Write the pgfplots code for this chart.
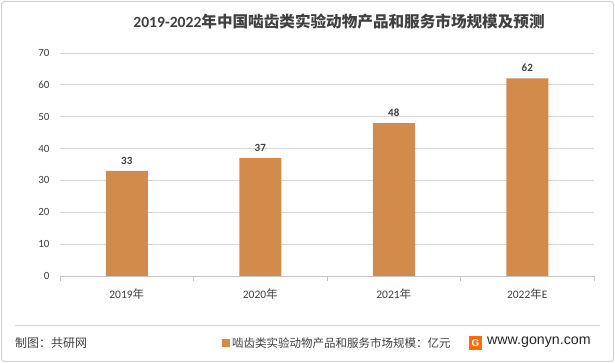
\documentclass[border=0pt]{standalone}
\usepackage{pgfplots}
\pgfplotsset{compat=1.18}
\usepackage{fontspec}
\setmainfont{Carlito}
\newfontfamily\cjk{Noto Sans CJK SC}
\newfontfamily\arial{Liberation Sans}
\definecolor{barcol}{HTML}{D38B4C}
\definecolor{txt}{HTML}{404040}
\definecolor{dtxt}{HTML}{404040}
\definecolor{gridc}{HTML}{D9D9D9}
\begin{document}
\begin{tikzpicture}
\path[use as bounding box] (0pt,0pt) rectangle (615pt,363pt);
\begin{scope}[x=1pt,y=1pt]
\draw[gray!35, line width=1pt, rounded corners=3pt] (1.5,1.5) rectangle (613.5,361.5);
\node[text=dtxt, font=\fontsize{15.6}{18}\selectfont\bfseries] at (339,341) {2019-2022{\cjk\bfseries 年中国啮齿类实验动物产品和服务市场规模及预测}};
\draw[gray!30, line width=0.8pt] (15,38) -- (600,38);
\end{scope}
\begin{axis}[
  at={(60pt,87pt)}, anchor=south west,
  scale only axis, width=534pt, height=223pt,
  xmin=-0.5, xmax=3.5, ymin=0, ymax=70,
  ytick={0,10,...,70},
  xtick={0,1,2,3},
  xticklabels={2019{\cjk 年},2020{\cjk 年},2021{\cjk 年},2022{\cjk 年}E},
  minor xtick={-0.5,0.5,1.5,2.5,3.5},
  axis x line*=bottom, axis y line*=left,
  y axis line style={draw=none},
  x axis line style={draw=gray!45, line width=0.8pt},
  tick align=outside,
  major tick length=0pt,
  minor tick length=5pt,
  minor tick style={draw=gray!45, line width=0.8pt},
  ymajorgrids, grid style={draw=gridc, line width=0.8pt},
  /pgf/number format/assume math mode=true,
  tick label style={text=txt},
  yticklabel style={xshift=-7pt, font=\fontsize{11}{13}\selectfont},
  xticklabel style={yshift=-9pt, font=\fontsize{11.5}{13}\selectfont},
  ybar, bar width=42pt,
  nodes near coords,
  every node near coord/.append style={text=dtxt, font=\fontsize{11}{13}\selectfont\bfseries, yshift=3pt},
  legend style={at={(0.303,-0.300)}, anchor=west, draw=none, fill=none,
    font=\fontsize{11.5}{14}\selectfont\color{dtxt}, inner sep=0pt},
  legend image code/.code={\fill[barcol] (0pt,-4pt) rectangle (8pt,4pt);},
  legend cell align=left,
  clip=false,
]
\addplot[fill=barcol, draw=none] coordinates {(0,33) (1,37) (2,48) (3,62)};
\addlegendentry{{\cjk 啮齿类实验动物产品和服务市场规模：亿元}}
\end{axis}
\begin{scope}[x=1pt,y=1pt]
\node[anchor=west, text=dtxt, font=\fontsize{12}{14}\selectfont\cjk, inner sep=0pt] at (15,20) {制图：共研网};
\fill[orange!85!red] (469,13) rectangle (482,27);
\node[text=white, font=\fontsize{10}{12}\selectfont\arial\bfseries, inner sep=0pt] at (475.5,20) {G};
\node[anchor=west, text=black!85, font=\fontsize{14.2}{17}\selectfont\arial, inner sep=0pt] at (487,21) {www.gonyn.com};
\end{scope}
\end{tikzpicture}
\end{document}
